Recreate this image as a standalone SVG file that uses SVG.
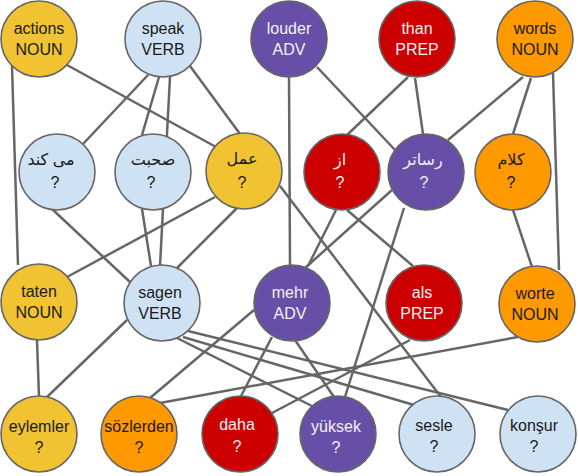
<svg xmlns="http://www.w3.org/2000/svg" width="578" height="476" viewBox="0 0 578 476">
<style>
.e line{stroke:#666;stroke-width:2.5;fill:none}
circle{stroke:#666;stroke-width:1.6}
.y{fill:#F1C232}.b{fill:#CFE2F3}.p{fill:#674EA7}.r{fill:#CC0000}.o{fill:#FF9900}
text{font-family:"Liberation Sans","DejaVu Sans",sans-serif;font-size:16px;text-anchor:middle}
.dk{fill:#1a1a1a}.lt{fill:#f2f2f2}
</style>
<rect width="578" height="476" fill="#fff"/>
<g class="e" id="edges">
<line x1="12" y1="66" x2="18" y2="265"/>
<line x1="67" y1="65" x2="216" y2="147"/>
<line x1="148" y1="75" x2="83" y2="144"/>
<line x1="159" y1="77" x2="142" y2="135"/>
<line x1="170" y1="77" x2="160" y2="266"/>
<line x1="190" y1="66" x2="240" y2="134"/>
<line x1="142" y1="209" x2="151" y2="266"/>
<line x1="215" y1="197" x2="67" y2="277"/>
<line x1="237" y1="208" x2="177" y2="268"/>
<line x1="52" y1="209" x2="130" y2="282"/>
<line x1="289" y1="77" x2="290" y2="265"/>
<line x1="317" y1="67" x2="395" y2="150"/>
<line x1="408" y1="77" x2="347" y2="135"/>
<line x1="415" y1="78" x2="423" y2="134"/>
<line x1="523" y1="77" x2="448" y2="140"/>
<line x1="531" y1="78" x2="513" y2="134"/>
<line x1="553" y1="73" x2="559" y2="270"/>
<line x1="513" y1="210" x2="532" y2="267"/>
<line x1="347" y1="210" x2="413" y2="266"/>
<line x1="336" y1="210" x2="308" y2="266"/>
<line x1="392" y1="190" x2="305" y2="268"/>
<line x1="404" y1="208" x2="345" y2="397"/>
<line x1="280" y1="186" x2="441" y2="397"/>
<line x1="37" y1="340" x2="39" y2="397"/>
<line x1="127" y1="320" x2="47" y2="397"/>
<line x1="177" y1="338" x2="312" y2="406"/>
<line x1="183" y1="337" x2="414" y2="405"/>
<line x1="188" y1="331" x2="508" y2="410"/>
<line x1="295" y1="340" x2="334" y2="397"/>
<line x1="272" y1="337" x2="240" y2="398"/>
<line x1="254" y1="310" x2="150" y2="398"/>
<line x1="272" y1="413" x2="410" y2="340"/>
<line x1="160" y1="403" x2="518" y2="337"/>
</g>
<g id="n-actions"><circle class="y" cx="39" cy="39" r="38"/><text class="dk" x="39" y="34">actions</text><text class="dk" x="39" y="55">NOUN</text></g>
<g id="n-speak"><circle class="b" cx="163" cy="39" r="38"/><text class="dk" x="163" y="34">speak</text><text class="dk" x="163" y="55">VERB</text></g>
<g id="n-louder"><circle class="p" cx="289" cy="39" r="38"/><text class="lt" x="289" y="34">louder</text><text class="lt" x="289" y="55">ADV</text></g>
<g id="n-than"><circle class="r" cx="417" cy="39" r="38"/><text class="lt" x="417" y="34">than</text><text class="lt" x="417" y="55">PREP</text></g>
<g id="n-words"><circle class="o" cx="535" cy="39" r="38"/><text class="dk" x="535" y="34">words</text><text class="dk" x="535" y="55">NOUN</text></g>
<g id="n-mikonad"><circle class="b" cx="57" cy="172" r="38"/><text class="dk" x="51" y="165">می کند</text><text class="dk" x="55" y="188">?</text></g>
<g id="n-sohbat"><circle class="b" cx="153" cy="172" r="38"/><text class="dk" x="153" y="165">صحبت</text><text class="dk" x="151" y="188">?</text></g>
<g id="n-amal"><circle class="y" cx="244" cy="171" r="38"/><text class="dk" x="242" y="164">عمل</text><text class="dk" x="242" y="188">?</text></g>
<g id="n-az"><circle class="r" cx="342" cy="172" r="38"/><text class="lt" x="340" y="165">از</text><text class="lt" x="340" y="188">?</text></g>
<g id="n-rasatar"><circle class="p" cx="426" cy="172" r="38"/><text class="lt" x="423" y="165">رساتر</text><text class="lt" x="424" y="188">?</text></g>
<g id="n-kalam"><circle class="o" cx="513" cy="172" r="38"/><text class="dk" x="511" y="165">کلام</text><text class="dk" x="511" y="188">?</text></g>
<g id="n-taten"><circle class="y" cx="39" cy="302" r="38"/><text class="dk" x="39" y="297">taten</text><text class="dk" x="39" y="318">NOUN</text></g>
<g id="n-sagen"><circle class="b" cx="162" cy="303" r="38"/><text class="dk" x="160" y="298">sagen</text><text class="dk" x="160" y="319">VERB</text></g>
<g id="n-mehr"><circle class="p" cx="292" cy="303" r="38"/><text class="lt" x="290" y="298">mehr</text><text class="lt" x="290" y="319">ADV</text></g>
<g id="n-als"><circle class="r" cx="424" cy="303" r="38"/><text class="lt" x="422" y="298">als</text><text class="lt" x="422" y="319">PREP</text></g>
<g id="n-worte"><circle class="o" cx="537" cy="304" r="38"/><text class="dk" x="535" y="299">worte</text><text class="dk" x="535" y="320">NOUN</text></g>
<g id="n-eylemler"><circle class="y" cx="39" cy="434" r="38"/><text class="dk" x="39" y="432">eylemler</text><text class="dk" x="39" y="453">?</text></g>
<g id="n-sozlerden"><circle class="o" cx="139" cy="434" r="38"/><text class="dk" x="139" y="432">sözlerden</text><text class="dk" x="139" y="453">?</text></g>
<g id="n-daha"><circle class="r" cx="240" cy="434" r="38"/><text class="lt" x="237" y="430">daha</text><text class="lt" x="237" y="452">?</text></g>
<g id="n-yuksek"><circle class="p" cx="338" cy="434" r="38"/><text class="lt" x="336" y="432">yüksek</text><text class="lt" x="336" y="453">?</text></g>
<g id="n-sesle"><circle class="b" cx="437" cy="434" r="38"/><text class="dk" x="434" y="431">sesle</text><text class="dk" x="434" y="452">?</text></g>
<g id="n-konsur"><circle class="b" cx="538" cy="434" r="38"/><text class="dk" x="534" y="431">konşur</text><text class="dk" x="534" y="452">?</text></g>
</svg>
